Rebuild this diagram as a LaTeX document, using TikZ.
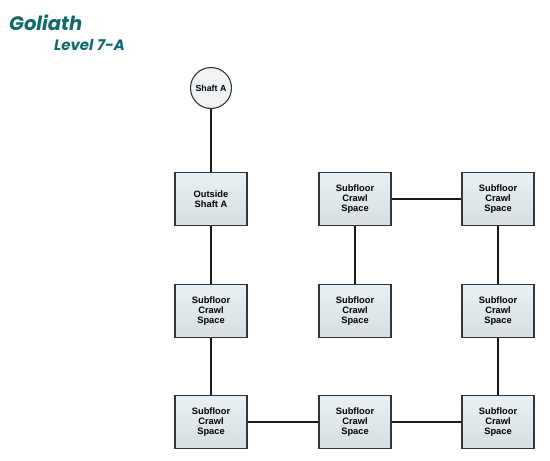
\documentclass[tikz,border=0pt]{standalone}
\usepackage{fontspec}
\setmainfont{Liberation Sans}
\newfontfamily\titlefont{Poppins}
\definecolor{boxtop}{HTML}{EAF1F4}
\definecolor{boxbot}{HTML}{D6DEE2}
\definecolor{circfill}{HTML}{EEF3F6}
\definecolor{boxedge}{HTML}{353535}
\definecolor{titleteal}{HTML}{0F6A6C}
\begin{document}
\begin{tikzpicture}[x=1pt,y=-1pt,
  roombox/.style={draw=boxedge,line width=1.3pt,top color=boxtop,bottom color=boxbot,
    minimum width=72pt,minimum height=53pt,inner sep=1pt,align=center,
    font=\bfseries\fontsize{9.3}{10}\selectfont},
  shaftnode/.style={circle,draw=boxedge,line width=1.1pt,fill=circfill,minimum size=41pt,inner sep=0pt,
    font=\bfseries\fontsize{8.8}{10}\selectfont},
  link/.style={line width=1.4pt,black!90},
  titletext/.style={text=titleteal,anchor=base west,inner sep=0pt}]
\useasboundingbox (0,0) rectangle (550,461);
\node[titletext,font=\titlefont\bfseries\itshape\fontsize{19.5}{22}\selectfont] (title) at (9,30) {Goliath};
\node[titletext,font=\titlefont\bfseries\itshape\fontsize{15}{17}\selectfont] (sub) at (54,50) {Level 7-A};

\node[shaftnode] (shaft) at (211,88) {Shaft A};
\node[roombox] (outside) at (211,199) {Outside\\Shaft A};
\node[roombox] (l2) at (211,311) {Subfloor\\Crawl\\Space};
\node[roombox] (l3) at (211,422) {Subfloor\\Crawl\\Space};
\node[roombox] (m1) at (355,199) {Subfloor\\Crawl\\Space};
\node[roombox] (m2) at (355,311) {Subfloor\\Crawl\\Space};
\node[roombox] (m3) at (355,422) {Subfloor\\Crawl\\Space};
\node[roombox] (r1) at (498,199) {Subfloor\\Crawl\\Space};
\node[roombox] (r2) at (498,311) {Subfloor\\Crawl\\Space};
\node[roombox] (r3) at (498,422) {Subfloor\\Crawl\\Space};

\draw[link] (shaft) -- (outside);
\draw[link] (outside) -- (l2);
\draw[link] (l2) -- (l3);
\draw[link] (l3) -- (m3);
\draw[link] (m3) -- (r3);
\draw[link] (r3) -- (r2);
\draw[link] (r2) -- (r1);
\draw[link] (r1) -- (m1);
\draw[link] (m1) -- (m2);
\end{tikzpicture}
\end{document}
